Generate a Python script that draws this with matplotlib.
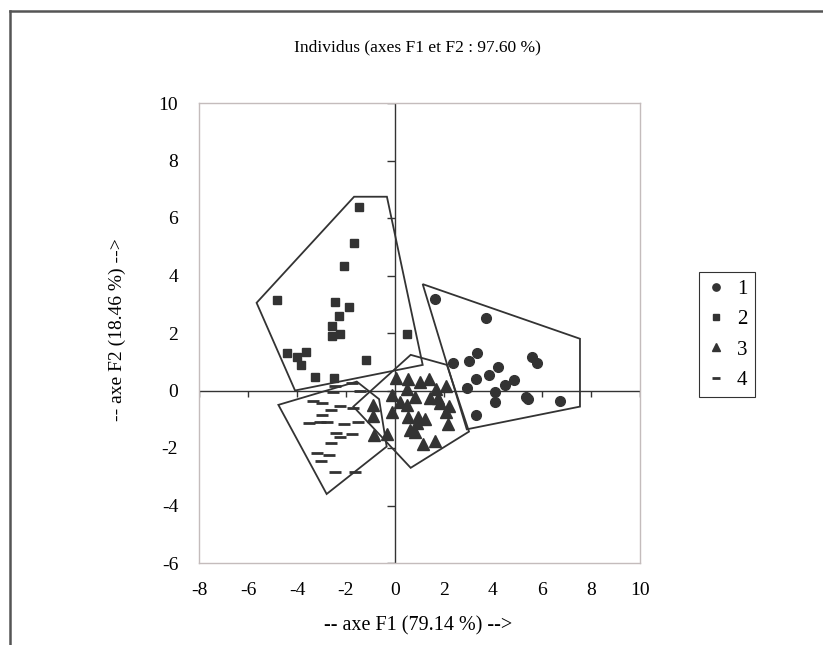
import matplotlib
matplotlib.use('Agg')
import matplotlib.pyplot as plt
from matplotlib.lines import Line2D

# ---- data ----
g1_x = [1.63, 3.71, 3.36, 2.38, 3.02, 5.60, 5.81, 4.20, 3.31, 3.85, 4.84, 4.49, 2.95, 4.07, 5.35, 5.43, 4.08, 6.73, 3.31]
g1_y = [3.18, 2.53, 1.29, 0.97, 1.03, 1.15, 0.97, 0.83, 0.39, 0.53, 0.35, 0.18, 0.09, -0.05, -0.21, -0.28, -0.41, -0.35, -0.85]

g2_x = [-1.46, -1.67, -2.09, -4.83, -2.45, -1.88, -2.30, -2.58, -2.58, -2.24, 0.50, -4.39, -3.99, -3.63, -3.84, -1.18, -3.27, -2.50]
g2_y = [6.39, 5.14, 4.34, 3.15, 3.07, 2.89, 2.58, 2.25, 1.91, 1.95, 1.95, 1.29, 1.15, 1.33, 0.89, 1.07, 0.48, 0.45]

g3_x = [0.04, 0.54, 1.02, 1.39, 2.08, 0.48, 1.67, -0.14, 0.82, 1.43, 1.77, 0.20, 0.48, -0.88, 1.84,
        2.22, -0.14, 2.08, -0.91, 0.54, 0.95, 1.22, 0.88, 2.18, 0.61, 0.82, -0.86, -0.31, 1.16, 1.65]
g3_y = [0.42, 0.39, 0.31, 0.39, 0.17, 0.04, 0.04, -0.16, -0.24, -0.27, -0.27, -0.39, -0.50, -0.50, -0.45,
        -0.53, -0.76, -0.76, -0.89, -0.91, -0.91, -0.99, -1.14, -1.17, -1.37, -1.43, -1.55, -1.52, -1.86, -1.76]

g4_x = [-2.45, -1.77, -2.52, -1.43, -3.33, -2.99, -2.24, -2.61, -1.70, -2.97, -3.50, -3.06,
        -2.79, -2.08, -1.50, -2.41, -2.24, -1.77, -2.61, -3.17, -2.68, -3.03, -2.45, -1.63]
g4_y = [0.17, 0.25, -0.06, -0.01, -0.37, -0.45, -0.53, -0.68, -0.62, -0.85, -1.14, -1.09,
        -1.11, -1.17, -1.09, -1.47, -1.61, -1.52, -1.84, -2.19, -2.24, -2.44, -2.82, -2.82]

# polygons drawn around each class
hull1_x = [1.13, 7.55, 7.55, 2.93]
hull1_y = [3.70, 1.80, -0.56, -1.35]
hull2_x = [-5.65, -1.67, -0.33, 1.13, -4.08]
hull2_y = [3.05, 6.74, 6.74, 0.89, 0.00]
hull3_x = [-1.70, 0.64, 2.12, 3.02, 0.64]
hull3_y = [-0.56, 1.24, 0.89, -1.43, -2.69]
hull4_x = [-4.76, -1.56, -0.65, -0.34, -2.79]
hull4_y = [-0.50, 0.31, -0.30, -1.95, -3.60]

labels = ['1', '2', '3', '4']
x_ticks = [-8, -6, -4, -2, 0, 2, 4, 6, 8, 10]
y_ticks = [-6, -4, -2, 0, 2, 4, 6, 8, 10]

plt.rcParams['font.family'] = ['Liberation Serif', 'DejaVu Serif']
plt.rcParams['axes.unicode_minus'] = False

dark = '#333333'
fig = plt.figure(figsize=(8.23, 6.45), dpi=100)
ax = fig.add_axes([199 / 823, 82 / 645, 441 / 823, 460 / 645])

ax.set_xlim(-8, 10)
ax.set_ylim(-6, 10)
ax.set_xticks(x_ticks)
ax.set_yticks(y_ticks)
ax.tick_params(length=0, labelsize=14, colors='black')
ax.tick_params(axis='x', pad=14)
ax.tick_params(axis='y', pad=15)
for s in ax.spines.values():
    s.set_color('#c4bcbc')
    s.set_linewidth(1.0)

# axes through the origin with their small ticks
ax.axhline(0, color=dark, lw=1.0, zorder=1)
ax.axvline(0, color=dark, lw=1.0, zorder=1)
ax.plot(x_ticks, [0] * len(x_ticks), ls='none', marker=3, ms=4.5, mew=1.0, color=dark, zorder=1)
ax.plot([0] * len(y_ticks), y_ticks, ls='none', marker=0, ms=5.5, mew=1.0, color=dark, zorder=1)

# class polygons
for hx, hy in [(hull1_x, hull1_y), (hull2_x, hull2_y), (hull3_x, hull3_y), (hull4_x, hull4_y)]:
    ax.fill(hx, hy, fill=False, edgecolor=dark, lw=1.3, zorder=2)

h1, = ax.plot(g1_x, g1_y, ls='none', marker='o', ms=7, color=dark, zorder=3)
h2, = ax.plot(g2_x, g2_y, ls='none', marker='s', ms=6.3, color=dark, zorder=3)
h3, = ax.plot(g3_x, g3_y, ls='none', marker='^', ms=8.5, color=dark, zorder=3)
h4, = ax.plot(g4_x, g4_y, ls='none', marker='_', ms=8, mew=2.0, color=dark, zorder=3)

leg = fig.legend([h1, h2, h3, h4], labels, loc='center', bbox_to_anchor=(0.883, 0.481),
                 frameon=True, fancybox=False, fontsize=15, handlelength=1.0,
                 handletextpad=0.5, labelspacing=0.52, borderpad=0.35, borderaxespad=0,
                 markerscale=0.75)
leg.get_frame().set_edgecolor('black')
leg.get_frame().set_linewidth(0.8)

fig.text(0.507, 1 - 47 / 645, 'Individus (axes F1 et F2 : 97.60 %)', ha='center', va='center', fontsize=12.5)
fig.text(418 / 823, 1 - 626 / 645, '-- axe F1 (79.14 %) -->', ha='center', va='center', fontsize=14.5)
fig.text(117 / 823, 1 - 330 / 645, '-- axe F2 (18.46 %) -->', ha='center', va='center',
         rotation=90, fontsize=14)

# outer chart border (top and left only visible)
fig.add_artist(Line2D([10 / 823, 1.0], [1 - 11 / 645, 1 - 11 / 645], transform=fig.transFigure,
                      color='#555555', lw=1.8))
fig.add_artist(Line2D([10 / 823, 10 / 823], [0.0, 1 - 11 / 645], transform=fig.transFigure,
                      color='#555555', lw=1.8))

fig.savefig('out.png', dpi=100)
